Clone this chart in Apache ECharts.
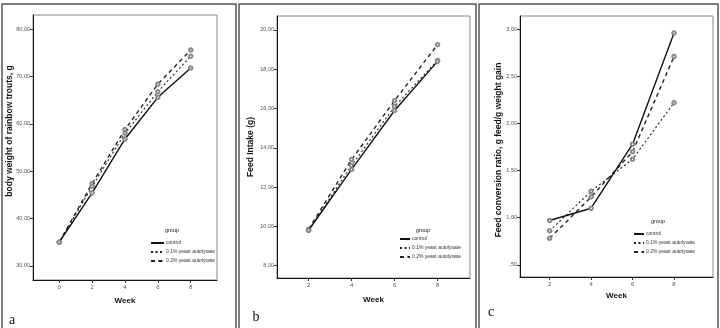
<!DOCTYPE html>
<html>
<head>
<meta charset="utf-8">
<script src="https://cdn.jsdelivr.net/npm/echarts@6/dist/echarts.min.js"></script>
<style>
  html, body { margin: 0; padding: 0; background: #fff; }
  #main { width: 720px; height: 328px; }
</style>
</head>
<body>
<div id="main"></div>
<script>
// weeks
const weeksA = [0, 2, 4, 6, 8];
const weeksBC = [2, 4, 6, 8];

// a - body weight (g)
const weightControl = [35.0, 45.4, 56.8, 65.6, 71.8];
const weight01 = [35.0, 46.8, 58.0, 66.8, 74.3];
const weight02 = [35.0, 47.4, 58.8, 68.4, 75.6];

// b - feed intake (g)
const feedControl = [9.8, 12.9, 15.9, 18.4];
const feed01 = [9.8, 13.1, 16.1, 18.45];
const feed02 = [9.85, 13.4, 16.4, 19.25];

// c - feed conversion ratio
const fcrControl = [0.97, 1.10, 1.78, 2.96];
const fcr01 = [0.86, 1.28, 1.62, 2.22];
const fcr02 = [0.78, 1.22, 1.70, 2.71];

// tick values
const ticksA = [30, 40, 50, 60, 70, 80];
const ticksB = [8, 10, 12, 14, 16, 18, 20];
const ticksC = [0.5, 1.0, 1.5, 2.0, 2.5, 3.0];

const groupNames = ['control', '0.1% yeast autolysate', '0.2% yeast autolysate'];

const FONT = 'Liberation Sans, Arial, sans-serif';

function commaFmt(v) {
  let s = v.toFixed(2).replace('.', ',');
  if (s.startsWith('0,')) s = s.slice(1);
  return s;
}

function pairs(xs, ys) {
  return xs.map((x, i) => [x, ys[i]]);
}

const lineStyles = [
  { color: '#111', width: 1.4, type: 'solid' },
  { color: '#222', width: 1.1, type: [2, 2.5] },
  { color: '#222', width: 1.4, type: [4, 3.5] }
];

function makeSeries(idx, xs, data) {
  return data.map((d, i) => ({
    name: groupNames[i],
    type: 'line',
    xAxisIndex: idx,
    yAxisIndex: idx,
    data: pairs(xs, d),
    symbol: 'emptyCircle',
    symbolSize: 3.5,
    itemStyle: { color: '#888', borderWidth: 0.6 },
    lineStyle: lineStyles[i],
    silent: true,
    z: 3 - i
  }));
}

function xAxisCfg(idx, min, max, ticks, gap) {
  return {
    type: 'value', gridIndex: idx, min: min, max: max,
    name: 'Week', nameLocation: 'middle', nameGap: gap,
    nameTextStyle: { fontFamily: FONT, fontWeight: 'bold', fontSize: 8, color: '#111' },
    axisLine: { show: true, onZero: false, lineStyle: { color: '#111', width: 1 } },
    axisTick: { show: true, length: 3, customValues: ticks, lineStyle: { color: '#333' } },
    axisLabel: { customValues: ticks, fontFamily: FONT, fontSize: 6, color: '#555', margin: 4 },
    splitLine: { show: false }
  };
}

function yAxisCfg(idx, min, max, ticks) {
  return {
    type: 'value', gridIndex: idx, min: min, max: max,
    axisLine: { show: true, onZero: false, lineStyle: { color: '#111', width: 1 } },
    axisTick: { show: true, length: 3, customValues: ticks, lineStyle: { color: '#333' } },
    axisLabel: { customValues: ticks, formatter: commaFmt, fontFamily: FONT, fontSize: 5.5, color: '#555', margin: 3 },
    splitLine: { show: false }
  };
}

function legendCfg(left, top, w) {
  return {
    data: groupNames, orient: 'vertical', left: left, top: top,
    itemWidth: w, itemHeight: 5, itemGap: 3, padding: 0,
    selectedMode: false,
    itemStyle: { opacity: 0 },
    textStyle: { fontFamily: FONT, fontSize: 5, color: '#333', padding: [0, 0, 0, -3] }
  };
}

function txt(x, y, text, size, weight, rot, family) {
  return {
    type: 'text', x: x, y: y, rotation: rot || 0,
    style: {
      text: text, fontSize: size, fontWeight: weight || 'normal',
      fontFamily: family || FONT, fill: '#111', align: 'center', verticalAlign: 'middle'
    }
  };
}

function box(x, y, w, h) {
  return {
    type: 'rect', shape: { x: x, y: y, width: w, height: h },
    style: { fill: 'none', stroke: '#555', lineWidth: 1.5 }, silent: true
  };
}

const myChart = echarts.init(document.getElementById('main'));

const option = {
  animation: false,
  grid: [
    { left: 33, top: 15, width: 184, height: 265, show: true, borderColor: '#888', borderWidth: 1 },
    { left: 277, top: 16, width: 193, height: 262, show: true, borderColor: '#888', borderWidth: 1 },
    { left: 520, top: 16, width: 193, height: 261, show: true, borderColor: '#888', borderWidth: 1 }
  ],
  xAxis: [
    xAxisCfg(0, -1.6, 9.6, weeksA, 17),
    xAxisCfg(1, 0.53, 9.51, weeksBC, 18),
    xAxisCfg(2, 0.57, 9.88, weeksBC, 12)
  ],
  yAxis: [
    yAxisCfg(0, 27, 83, ticksA),
    yAxisCfg(1, 7.37, 20.71, ticksB),
    yAxisCfg(2, 0.37, 3.14, ticksC)
  ],
  legend: [
    legendCfg(150, 240, 13),
    legendCfg(399, 236, 10),
    legendCfg(633, 231, 10)
  ],
  graphic: [
    box(2, 4, 234, 330),
    box(239, 4, 237, 330),
    box(479, 4, 239, 330),
    txt(10, 131, 'body weight of rainbow trouts, g', 8.5, 'bold', Math.PI / 2),
    txt(251, 147, 'Feed Intake (g)', 8.5, 'bold', Math.PI / 2),
    txt(499, 150, 'Feed conversion ratio, g feed/g weight gain', 8.5, 'bold', Math.PI / 2),
    txt(172, 230, 'group', 5.5),
    txt(423, 230, 'group', 5.5),
    txt(658, 221, 'group', 5.5),
    txt(12, 320, 'a', 14, 'normal', 0, 'Liberation Serif, serif'),
    txt(256, 317, 'b', 14, 'normal', 0, 'Liberation Serif, serif'),
    txt(491, 312, 'c', 14, 'normal', 0, 'Liberation Serif, serif')
  ],
  series: [].concat(
    makeSeries(0, weeksA, [weightControl, weight01, weight02]),
    makeSeries(1, weeksBC, [feedControl, feed01, feed02]),
    makeSeries(2, weeksBC, [fcrControl, fcr01, fcr02])
  )
};

myChart.setOption(option);
</script>
</body>
</html>
